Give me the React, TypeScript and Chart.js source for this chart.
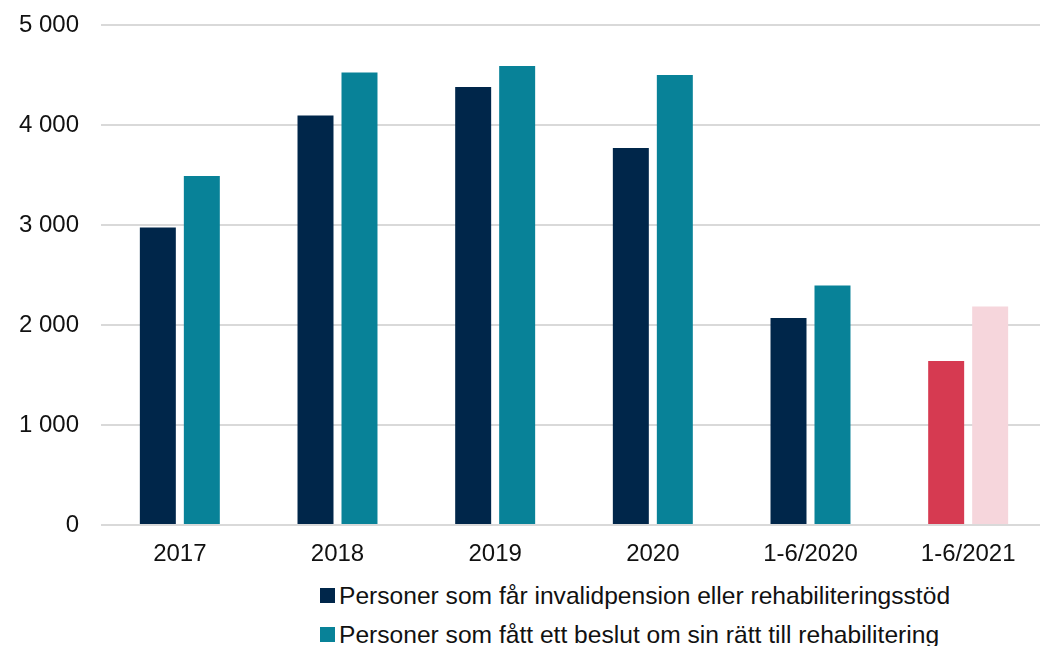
import React, { useEffect, useRef } from "react";
import { Chart, registerables } from "chart.js";

Chart.register(...registerables);

const categories = ["2017", "2018", "2019", "2020", "1-6/2020", "1-6/2021"];
const invalidpension = [2975, 4095, 4380, 3770, 2070, 1640];
const rehabilitering = [3490, 4525, 4590, 4500, 2395, 2185];
const yTicks = [0, 1000, 2000, 3000, 4000, 5000];
const seriesNames = [
  "Personer som får invalidpension eller rehabiliteringsstöd",
  "Personer som fått ett beslut om sin rätt till rehabilitering",
];

const DARK = "#00264a";
const TEAL = "#088298";
const RED = "#d63a51";
const PINK = "#f6d6dc";
const FONT = "'Liberation Sans', Arial, sans-serif";

const fmt = (v: number) => {
  const s = String(Math.round(v));
  return s.replace(/\B(?=(\d{3})+(?!\d))/g, " ");
};

export default function App() {
  const ref = useRef<HTMLCanvasElement | null>(null);

  useEffect(() => {
    if (!ref.current) return;
    const last = categories.length - 1;
    const chart = new Chart(ref.current, {
      type: "bar",
      data: {
        labels: categories,
        datasets: [
          {
            label: seriesNames[0],
            data: invalidpension,
            backgroundColor: (ctx: any) => (ctx.dataIndex === last ? RED : DARK),
            borderWidth: 0,
          },
          {
            label: seriesNames[1],
            data: rehabilitering,
            backgroundColor: (ctx: any) => (ctx.dataIndex === last ? PINK : TEAL),
            borderWidth: 0,
          },
        ],
      },
      options: {
        animation: false,
        responsive: true,
        maintainAspectRatio: false,
        layout: { padding: { top: 25, right: 13, left: 0, bottom: 0 } },
        datasets: {
          bar: { categoryPercentage: 0.558, barPercentage: 0.818 },
        },
        plugins: {
          legend: { display: false },
          tooltip: { enabled: false },
        },
        scales: {
          x: {
            grid: { display: false, drawTicks: false },
            border: { display: false },
            ticks: {
              color: "#111",
              font: { family: FONT, size: 24 },
              padding: 15,
              maxRotation: 0,
              autoSkip: false,
            },
            afterFit: (s: any) => {
              s.height = 50;
              s.paddingLeft = 0;
              s.paddingRight = 0;
            },
          },
          y: {
            min: 0,
            max: 5000,
            grid: { color: "#d9d9d9", lineWidth: 2, drawTicks: false },
            border: { display: false },
            afterBuildTicks: (s: any) => {
              s.ticks = yTicks.map((v) => ({ value: v }));
            },
            ticks: {
              color: "#111",
              font: { family: FONT, size: 24 },
              padding: 22,
              callback: (v: any) => fmt(Number(v)),
            },
            afterFit: (s: any) => {
              s.width = 101;
              s.paddingTop = 0;
              s.paddingBottom = 0;
            },
          },
        },
      },
    });
    return () => chart.destroy();
  }, []);

  const colors = [DARK, TEAL];

  return (
    <div
      style={{
        position: "fixed",
        left: 0,
        top: 0,
        width: 1040,
        height: 646,
        overflow: "hidden",
        background: "#fff",
      }}
    >
      <div style={{ position: "absolute", left: 0, top: 0, width: 1060, height: 575 }}>
        <canvas ref={ref} />
      </div>
      <div style={{ position: "absolute", left: 320, top: 576, fontFamily: FONT, fontSize: 24.6, color: "#111" }}>
        {seriesNames.map((n, i) => (
          <div key={n} style={{ display: "flex", alignItems: "center", height: 39, whiteSpace: "nowrap" }}>
            <span style={{ display: "inline-block", width: 15, height: 15, background: colors[i], marginRight: 4 }} />
            <span>{n}</span>
          </div>
        ))}
      </div>
    </div>
  );
}
